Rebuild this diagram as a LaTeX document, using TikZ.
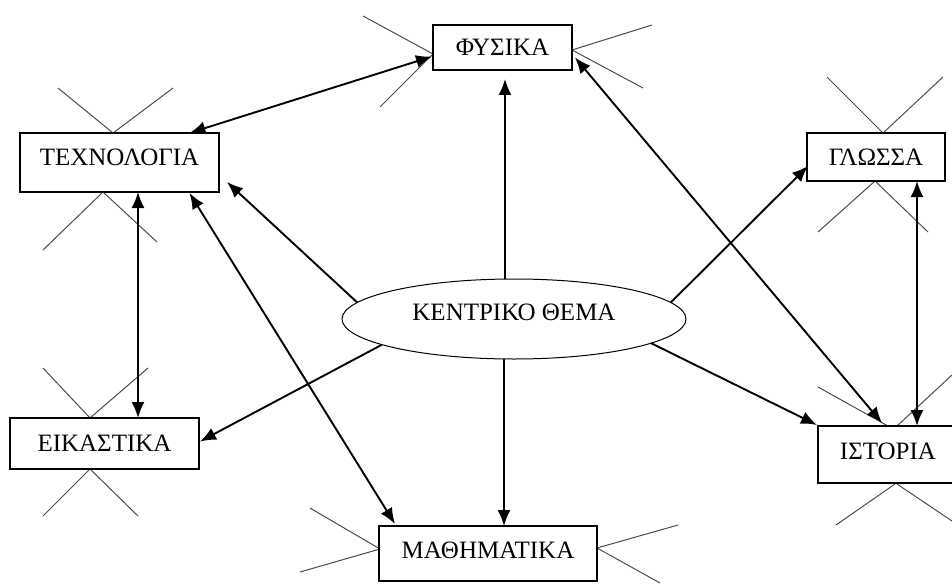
\documentclass[tikz,border=0pt]{standalone}
\usepackage{fontspec}
\setmainfont{Liberation Serif}
\usetikzlibrary{arrows.meta}
\usetikzlibrary{shapes.geometric}

\begin{document}
\begin{tikzpicture}[x=1pt,y=-1pt,
  thema/.style={draw,line width=1.2pt,fill=white,inner sep=0pt,outer sep=0pt,font=\fontsize{25}{30}\selectfont},
  arr/.style={line width=1.9pt,-{Latex[length=16pt,width=13pt]}},
  darr/.style={line width=1.9pt,{Latex[length=16pt,width=13pt]}-{Latex[length=16pt,width=13pt]}},
  spoke/.style={line width=1pt,black!70}]

\useasboundingbox (0,0) rectangle (952,583);
\clip (0,0) rectangle (952,583);

% the little legs round the boxes
\draw[spoke] (58,88) -- (113,133) -- (173,88);
\draw[spoke] (43,250) -- (103,192) -- (157,242);
\draw[spoke] (363,16) -- (433,54) -- (380,107);
\draw[spoke] (652,25) -- (572,50) -- (643,88);
\draw[spoke] (827,77) -- (883,133) -- (943,77);
\draw[spoke] (818,232) -- (875,181) -- (928,232);
\draw[spoke] (818,387) -- (888,426);
\draw[spoke] (897,426) -- (952,375);
\draw[spoke] (836,525) -- (895,484);
\draw[spoke] (897,484) -- (952,521);
\draw[spoke] (43,368) -- (90,418) -- (148,368);
\draw[spoke] (43,516) -- (90,469) -- (138,516);
\draw[spoke] (310,508) -- (380,549) -- (300,572);
\draw[spoke] (678,525) -- (597,548) -- (660,583);

\node[thema,minimum width=139pt,minimum height=45pt] (fysika) at (502.5,47.5) {ΦΥΣΙΚΑ};
\node[thema,minimum width=199pt,minimum height=59pt,text depth=10pt] (techno) at (119.5,162.5) {ΤΕΧΝΟΛΟΓΙΑ};
\node[thema,minimum width=138pt,minimum height=48pt] (glossa) at (876,157) {ΓΛΩΣΣΑ};
\node[thema,minimum width=140pt,minimum height=57pt,text depth=6pt] (istoria) at (888,454.5) {ΙΣΤΟΡΙΑ};
\node[thema,minimum width=189pt,minimum height=51pt] (eikastika) at (104.5,443.5) {ΕΙΚΑΣΤΙΚΑ\hspace{14pt}};
\node[thema,minimum width=218pt,minimum height=55pt,text depth=6pt] (mathimatika) at (488,553.5) {ΜΑΘΗΜΑΤΙΚΑ};
\node[thema,ellipse,line width=1pt,minimum width=344pt,minimum height=80pt,text depth=14pt] (kentro) at (514,319) {ΚΕΝΤΡΙΚΟ ΘΕΜΑ\hspace{14pt}};

% from the centre out
\draw[arr] ([xshift=-9pt]kentro.north) -- ([xshift=2.5pt,yshift=-9pt]fysika.south);
\draw[arr] (kentro.174) -- ([xshift=8pt,yshift=10pt]techno.south east);
\draw[arr] (kentro.191) -- ([xshift=1pt,yshift=2pt]eikastika.east);
\draw[arr] (kentro.6) -- ([xshift=1pt,yshift=-9pt]glossa.west);
\draw[arr] (kentro.350) -- ([xshift=-1pt,yshift=1pt]istoria.north west);
\draw[arr] ([xshift=-10pt]kentro.south) -- ([xshift=16pt]mathimatika.north);

% between the subjects
\draw[darr] ([xshift=70pt]techno.north) -- ([xshift=-1pt,yshift=-9pt]fysika.west);
\draw[darr] ([xshift=18.5pt]techno.south) -- ([xshift=33.5pt]eikastika.north);
\draw[darr] ([xshift=70pt,yshift=-1pt]techno.south) -- ([xshift=-93pt,yshift=2pt]mathimatika.north);
\draw[darr] ([xshift=3pt,yshift=-10pt]fysika.east) -- ([xshift=-6pt,yshift=3pt]istoria.north);
\draw[darr] ([xshift=41pt]glossa.south) -- ([xshift=29pt]istoria.north);

\end{tikzpicture}
\end{document}
